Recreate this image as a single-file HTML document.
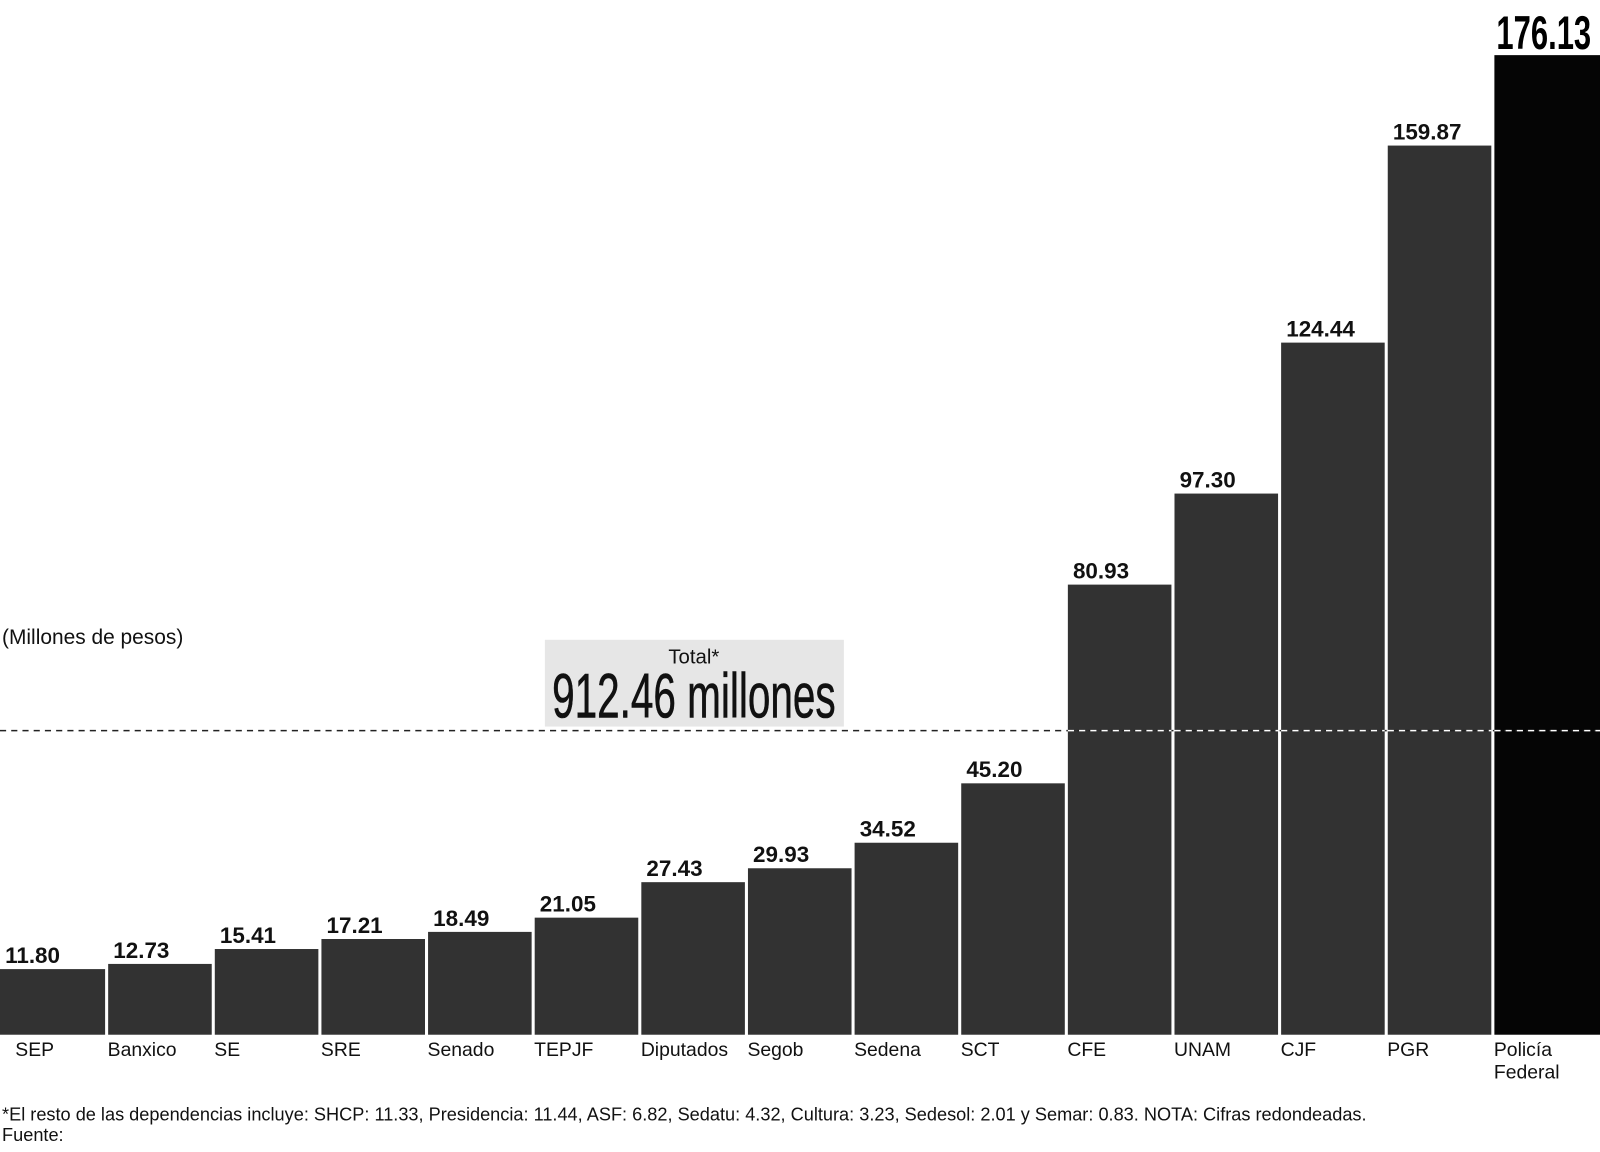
<!DOCTYPE html>
<html><head><meta charset="utf-8"><style>
body{margin:0;background:#fff;width:1600px;height:1147px;overflow:hidden;font-family:"Liberation Sans",sans-serif}
svg text{font-family:"Liberation Sans",sans-serif}
</style></head><body>
<svg id="chart" width="1600" height="1147" viewBox="0 0 1568 1124" xmlns="http://www.w3.org/2000/svg">
<text x="2" y="631" font-size="20.5" fill="#111">(Millones de pesos)</text>
<g id="bars"></g>
<line x1="0" y1="716" x2="1568" y2="716" stroke="#222" stroke-width="1.5" stroke-dasharray="6,5"/>
<g id="whiteDash"></g>
<rect x="534" y="627" width="293" height="85" fill="#e6e6e6"/>
<text x="680" y="650" font-size="20" text-anchor="middle" fill="#111">Total*</text>
<text x="680" y="703" font-size="62" text-anchor="middle" fill="#111" stroke="#111" stroke-width="0.6" transform="translate(680 0) scale(0.64 1) translate(-680 0)">912.46 millones</text>
<text x="2" y="1098" font-size="17.8" fill="#111">*El resto de las dependencias incluye: SHCP:  11.33, Presidencia: 11.44, ASF: 6.82, Sedatu: 4.32, Cultura: 3.23, Sedesol: 2.01 y Semar: 0.83. NOTA: Cifras redondeadas.</text>
<text x="2" y="1118" font-size="17.8" fill="#111">Fuente:</text>
</svg>
<script>
const categories=["SEP","Banxico","SE","SRE","Senado","TEPJF","Diputados","Segob","Sedena","SCT","CFE","UNAM","CJF","PGR","Policía Federal"];
const values=[11.80,12.73,15.41,17.21,18.49,21.05,27.43,29.93,34.52,45.20,80.93,97.30,124.44,159.87,176.13];
const labels=["11.80","12.73","15.41","17.21","18.49","21.05","27.43","29.93","34.52","45.20","80.93","97.30","124.44","159.87","176.13"];
const NS="http://www.w3.org/2000/svg";
const base=1014,scale=(1014-54)/176.13,pitch=104.5;
const xs=i=>i*pitch, ys=v=>base-v*scale;
const g=document.getElementById('bars');
const wd=document.getElementById('whiteDash');
function mk(t,a,p){const e=document.createElementNS(NS,t);for(const k in a)e.setAttribute(k,a[k]);p.appendChild(e);return e;}
values.forEach((v,i)=>{
 const last=i===values.length-1;
 const x=xs(i)+(i?1.5:0),w=pitch-3+(i?0:1.5)+(last?3:0),y=ys(v);
 const r=mk('rect',{x:x,y:y,width:w,height:base-y,fill:last?'#050505':'#323232'},g);
 
 
 if(y<716){const l=mk('line',{x1:x,x2:x+w,y1:716,y2:716,stroke:'#fff','stroke-width':1.5,'stroke-dasharray':'6,5'},wd);
  
  }
 let t;
 if(last){t=mk('text',{x:x+2,y:y-6,'font-size':46,'font-weight':'bold',fill:'#000',transform:`translate(${x+2} 0) scale(0.66 1) translate(${-(x+2)} 0)`},g);}
 else{t=mk('text',{x:x+5,y:y-6,'font-size':22,'font-weight':'bold',fill:'#111'},g);}
 t.textContent=labels[i];
 
 
 const parts=categories[i].split(' ');
 const cx=i===0?15:xs(i)+1;
 parts.forEach((p,j)=>{const c=mk('text',{x:cx,y:1035+j*22,'font-size':19,fill:'#111'},g);c.textContent=p;
  
  });
});
</script>
</body></html>
